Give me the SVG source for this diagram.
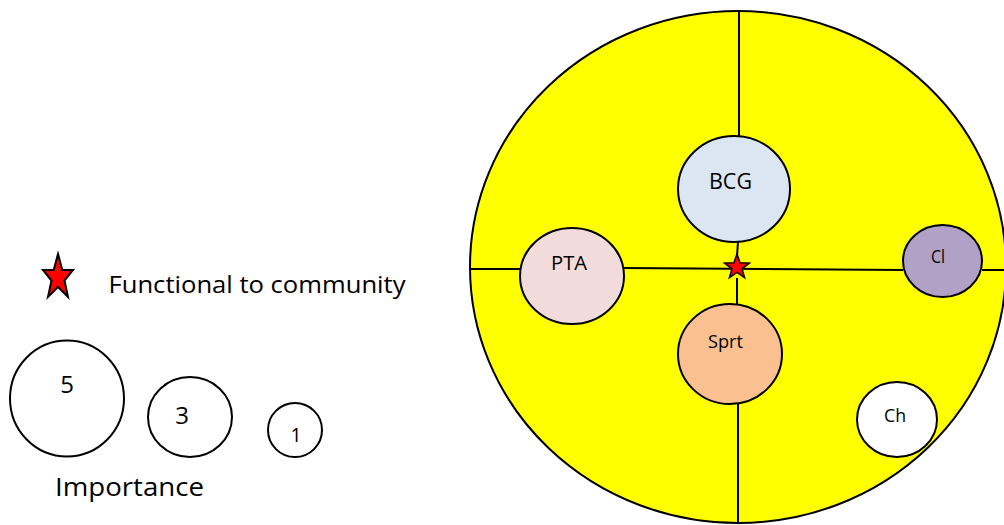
<svg xmlns="http://www.w3.org/2000/svg" width="1004" height="525" viewBox="0 0 1004 525">
<style>
.o{stroke:#000;stroke-width:2}
.t{font-family:"Open Sans","Liberation Sans",sans-serif;fill:#000;text-anchor:middle}
.ln{stroke:#000;stroke-width:2;fill:none}
</style>
<rect width="1004" height="525" fill="#fff"/>
<g id="field">
<ellipse cx="738" cy="267" rx="268" ry="256" fill="#ffff00" class="o"/>
</g>
<g id="connectors">
<line class="ln" x1="739" y1="11" x2="739" y2="136"/>
<line class="ln" x1="738" y1="242" x2="737" y2="256"/>
<line class="ln" x1="737" y1="278" x2="737" y2="304"/>
<line class="ln" x1="738" y1="404" x2="738" y2="523"/>
<line class="ln" x1="471" y1="269" x2="520" y2="269"/>
<line class="ln" x1="624" y1="268" x2="903" y2="270"/>
<line class="ln" x1="982" y1="270" x2="1004" y2="270"/>
</g>
<g id="star-center">
<polygon points="737,254 740.1,262.8 749.4,263.1 742,268.8 744.6,277.7 737,272.5 729.4,277.7 732,268.8 724.6,263.1 733.9,262.8" fill="#ff0000" stroke="#000" stroke-width="1.5"/>
</g>
<g id="node-bcg">
<ellipse cx="734" cy="189" rx="56" ry="53" fill="#dce6f2" class="o"/>
<text class="t" x="730.5" y="189" font-size="22.5" textLength="43" lengthAdjust="spacingAndGlyphs">BCG</text>
</g>
<g id="node-pta">
<ellipse cx="572" cy="276" rx="52" ry="48" fill="#f2dcdb" class="o"/>
<text class="t" x="569" y="270" font-size="19.5" textLength="36" lengthAdjust="spacingAndGlyphs">PTA</text>
</g>
<g id="node-cl">
<ellipse cx="942.5" cy="261" rx="39.5" ry="36" fill="#b2a1c7" class="o"/>
<text class="t" x="938" y="263" font-size="18.5" textLength="14" lengthAdjust="spacingAndGlyphs">Cl</text>
</g>
<g id="node-sprt">
<ellipse cx="730" cy="354" rx="52" ry="50" fill="#fac090" class="o"/>
<text class="t" x="725.5" y="348" font-size="18" textLength="35" lengthAdjust="spacingAndGlyphs">Sprt</text>
</g>
<g id="node-ch">
<ellipse cx="897" cy="419.5" rx="40" ry="37.5" fill="#ffffff" class="o"/>
<text class="t" x="895" y="422" font-size="17.5" textLength="22" lengthAdjust="spacingAndGlyphs">Ch</text>
</g>
<g id="legend-star">
<polygon points="58,254 62.3,270 73,270 64.5,280.5 68,297 58,287 48,297 51.5,280.5 43,270 53.7,270" fill="#ff0000" stroke="#000" stroke-width="2"/>
<text class="t" x="257" y="293" font-size="24" textLength="297" lengthAdjust="spacingAndGlyphs">Functional to community</text>
</g>
<g id="legend-5">
<ellipse cx="67" cy="398.5" rx="57" ry="58" fill="#fff" class="o"/>
<text class="t" x="67" y="393" font-size="24">5</text>
</g>
<g id="legend-3">
<ellipse cx="190" cy="417" rx="42" ry="40" fill="#fff" class="o"/>
<text class="t" x="182" y="424" font-size="24">3</text>
</g>
<g id="legend-1">
<ellipse cx="295" cy="430" rx="27" ry="27" fill="#fff" class="o"/>
<text class="t" x="296" y="442" font-size="19.5">1</text>
</g>
<text class="t" x="129.5" y="496" font-size="26" textLength="149" lengthAdjust="spacingAndGlyphs">Importance</text>
</svg>
